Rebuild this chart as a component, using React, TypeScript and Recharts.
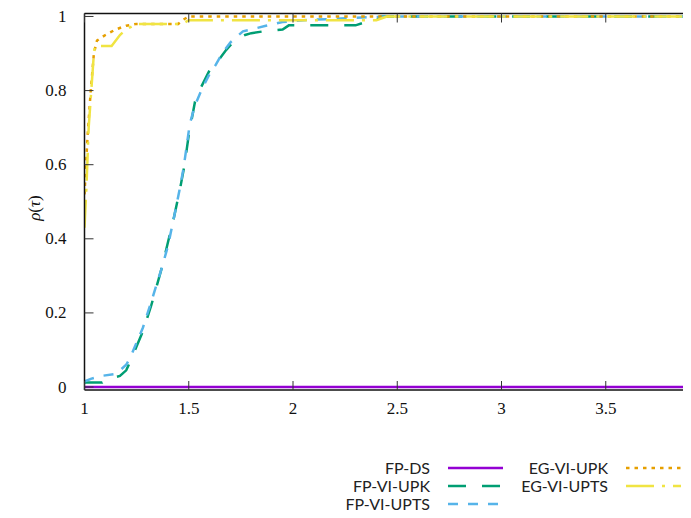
import { LineChart, Line, XAxis, YAxis, ReferenceLine } from 'recharts';

// performance profile data
const TAU_DS = [1, 4];
const RHO_DS = [0, 0];

const TAU_VI_UPK = [1, 1.085, 1.1, 1.17, 1.2, 1.22, 1.25, 1.28, 1.32, 1.37, 1.4, 1.43, 1.46, 1.48, 1.5, 1.53, 1.56, 1.6, 1.64, 1.68, 1.72, 1.77, 1.8, 1.86, 1.95, 1.98, 2.3, 2.35, 2.4, 2.42, 4];
const RHO_VI_UPK = [0.012, 0.012, 0.02, 0.03, 0.045, 0.07, 0.11, 0.15, 0.22, 0.32, 0.39, 0.46, 0.54, 0.6, 0.68, 0.77, 0.81, 0.855, 0.88, 0.91, 0.935, 0.95, 0.955, 0.96, 0.965, 0.976, 0.976, 0.985, 0.99, 1, 1];

const TAU_VI_UPTS = [1, 1.03, 1.08, 1.15, 1.2, 1.22, 1.25, 1.28, 1.32, 1.37, 1.4, 1.43, 1.455, 1.475, 1.49, 1.505, 1.53, 1.56, 1.6, 1.63, 1.66, 1.7, 1.73, 1.76, 1.8, 1.87, 1.95, 2.05, 2.25, 2.45, 4];
const RHO_VI_UPTS = [0.015, 0.022, 0.03, 0.035, 0.06, 0.08, 0.12, 0.16, 0.23, 0.32, 0.38, 0.46, 0.53, 0.59, 0.65, 0.71, 0.76, 0.8, 0.845, 0.87, 0.9, 0.93, 0.945, 0.96, 0.965, 0.975, 0.985, 0.99, 0.995, 1, 1];

const TAU_EG_UPK = [1, 1.015, 1.03, 1.045, 1.06, 1.1, 1.15, 1.2, 1.25, 1.45, 1.47, 1.5, 4];
const RHO_EG_UPK = [0.52, 0.68, 0.8, 0.9, 0.935, 0.95, 0.965, 0.975, 0.98, 0.98, 0.99, 1, 1];

const TAU_EG_UPTS = [1, 1.01, 1.02, 1.035, 1.045, 1.05, 1.13, 1.17, 1.2, 1.25, 1.47, 1.5, 2.4, 2.45, 4];
const RHO_EG_UPTS = [0.43, 0.55, 0.7, 0.82, 0.9, 0.92, 0.92, 0.95, 0.965, 0.98, 0.98, 0.99, 0.99, 1, 1];

const X_TICKS = [1, 1.5, 2, 2.5, 3, 3.5, 4];
const Y_TICKS = [0, 0.2, 0.4, 0.6, 0.8, 1];

const SERIES = [
  { name: 'FP-DS', tau: TAU_DS, rho: RHO_DS, color: '#9400D3', dash: undefined },
  { name: 'FP-VI-UPK', tau: TAU_VI_UPK, rho: RHO_VI_UPK, color: '#009E73', dash: '18 16' },
  { name: 'FP-VI-UPTS', tau: TAU_VI_UPTS, rho: RHO_VI_UPTS, color: '#56B4E9', dash: '10 10' },
  { name: 'EG-VI-UPK', tau: TAU_EG_UPK, rho: RHO_EG_UPK, color: '#E69F00', dash: '3.5 5' },
  { name: 'EG-VI-UPTS', tau: TAU_EG_UPTS, rho: RHO_EG_UPTS, color: '#F0E442', dash: '28 8 3 8' },
];

const toRows = (tau: number[], rho: number[]) => tau.map((t, i) => ({ tau: t, rho: rho[i] }));

// plot box in svg coords
const PLOT_TOP = 5.5;
const PLOT_BOTTOM = 382;
const PLOT_LEFT = 76.5;
const VISIBLE_W = 683;
const TICK_LEN = 9;
const SERIF = '"Liberation Serif", "DejaVu Serif", serif';

const XTick = (props: any) => {
  const { x, payload } = props;
  // the right end of the axis is cropped away, so its label is not shown
  const showLabel = x + 10 < VISIBLE_W;
  return (
    <g>
      <line x1={x} x2={x} y1={PLOT_BOTTOM} y2={PLOT_BOTTOM - TICK_LEN} stroke="#333" strokeWidth={1} />
      <line x1={x} x2={x} y1={PLOT_TOP} y2={PLOT_TOP + TICK_LEN} stroke="#333" strokeWidth={1} />
      {showLabel && (
        <text x={x} y={PLOT_BOTTOM + 24} textAnchor="middle" fontFamily={SERIF} fontSize={17} fill="#111">
          {String(payload.value)}
        </text>
      )}
    </g>
  );
};

const YTick = (props: any) => {
  const { y, payload } = props;
  return (
    <g>
      <line x1={PLOT_LEFT} x2={PLOT_LEFT + TICK_LEN} y1={y} y2={y} stroke="#333" strokeWidth={1} />
      <text x={PLOT_LEFT - 18} y={y + 5.5} textAnchor="end" fontFamily={SERIF} fontSize={17} fill="#111">
        {String(payload.value)}
      </text>
    </g>
  );
};

function LegendOverlay() {
  const rows = [
    { s: SERIES[0], x: 422, y: 460 },
    { s: SERIES[1], x: 422, y: 478 },
    { s: SERIES[2], x: 422, y: 496 },
    { s: SERIES[3], x: 600, y: 460 },
    { s: SERIES[4], x: 600, y: 478 },
  ];
  return (
    <svg width={683} height={510} style={{ position: 'absolute', left: 0, top: 0, pointerEvents: 'none' }}>
      <text
        transform="translate(32,200) rotate(-90)"
        textAnchor="middle"
        fontFamily={SERIF}
        fontSize={17}
        fill="#111"
      >
        <tspan fontStyle="italic">ρ</tspan>(<tspan fontStyle="italic">τ</tspan>)
      </text>
      {rows.map(({ s, x, y }) => (
        <g key={s.name}>
          <text x={x} y={y + 5.5} textAnchor="end" fontFamily="Lato, sans-serif" fontSize={16} fill="#222">
            {s.name}
          </text>
          <line
            x1={x + 18}
            x2={x + 73}
            y1={y}
            y2={y}
            stroke={s.color}
            strokeWidth={2.5}
            strokeDasharray={s.dash}
          />
        </g>
      ))}
    </svg>
  );
}

export default function App() {
  return (
    <div style={{ position: 'relative', width: VISIBLE_W, height: 510, overflow: 'hidden', background: '#fff' }}>
      <LineChart width={760} height={500} margin={{ top: PLOT_TOP, right: 58, bottom: 88, left: 16.5 }}>
        <XAxis
          dataKey="tau"
          type="number"
          domain={[1, 4]}
          ticks={X_TICKS}
          allowDataOverflow
          height={30}
          tickLine={false}
          axisLine={{ stroke: '#111', strokeWidth: 1.5 }}
          tick={XTick}
          interval={0}
        />
        <YAxis
          type="number"
          domain={[-0.008, 1.008]}
          ticks={Y_TICKS}
          allowDataOverflow
          width={60}
          tickLine={false}
          axisLine={{ stroke: '#111', strokeWidth: 1.5 }}
          tick={YTick}
          interval={0}
        />
        <ReferenceLine y={1.008} stroke="#111" strokeWidth={1.5} ifOverflow="visible" />
        <ReferenceLine x={4} stroke="#111" strokeWidth={1.5} ifOverflow="visible" />
        {SERIES.map((s) => (
          <Line
            key={s.name}
            data={toRows(s.tau, s.rho)}
            dataKey="rho"
            type="linear"
            stroke={s.color}
            strokeWidth={2.5}
            strokeDasharray={s.dash}
            dot={false}
            activeDot={false}
            isAnimationActive={false}
          />
        ))}
      </LineChart>
      <LegendOverlay />
    </div>
  );
}
